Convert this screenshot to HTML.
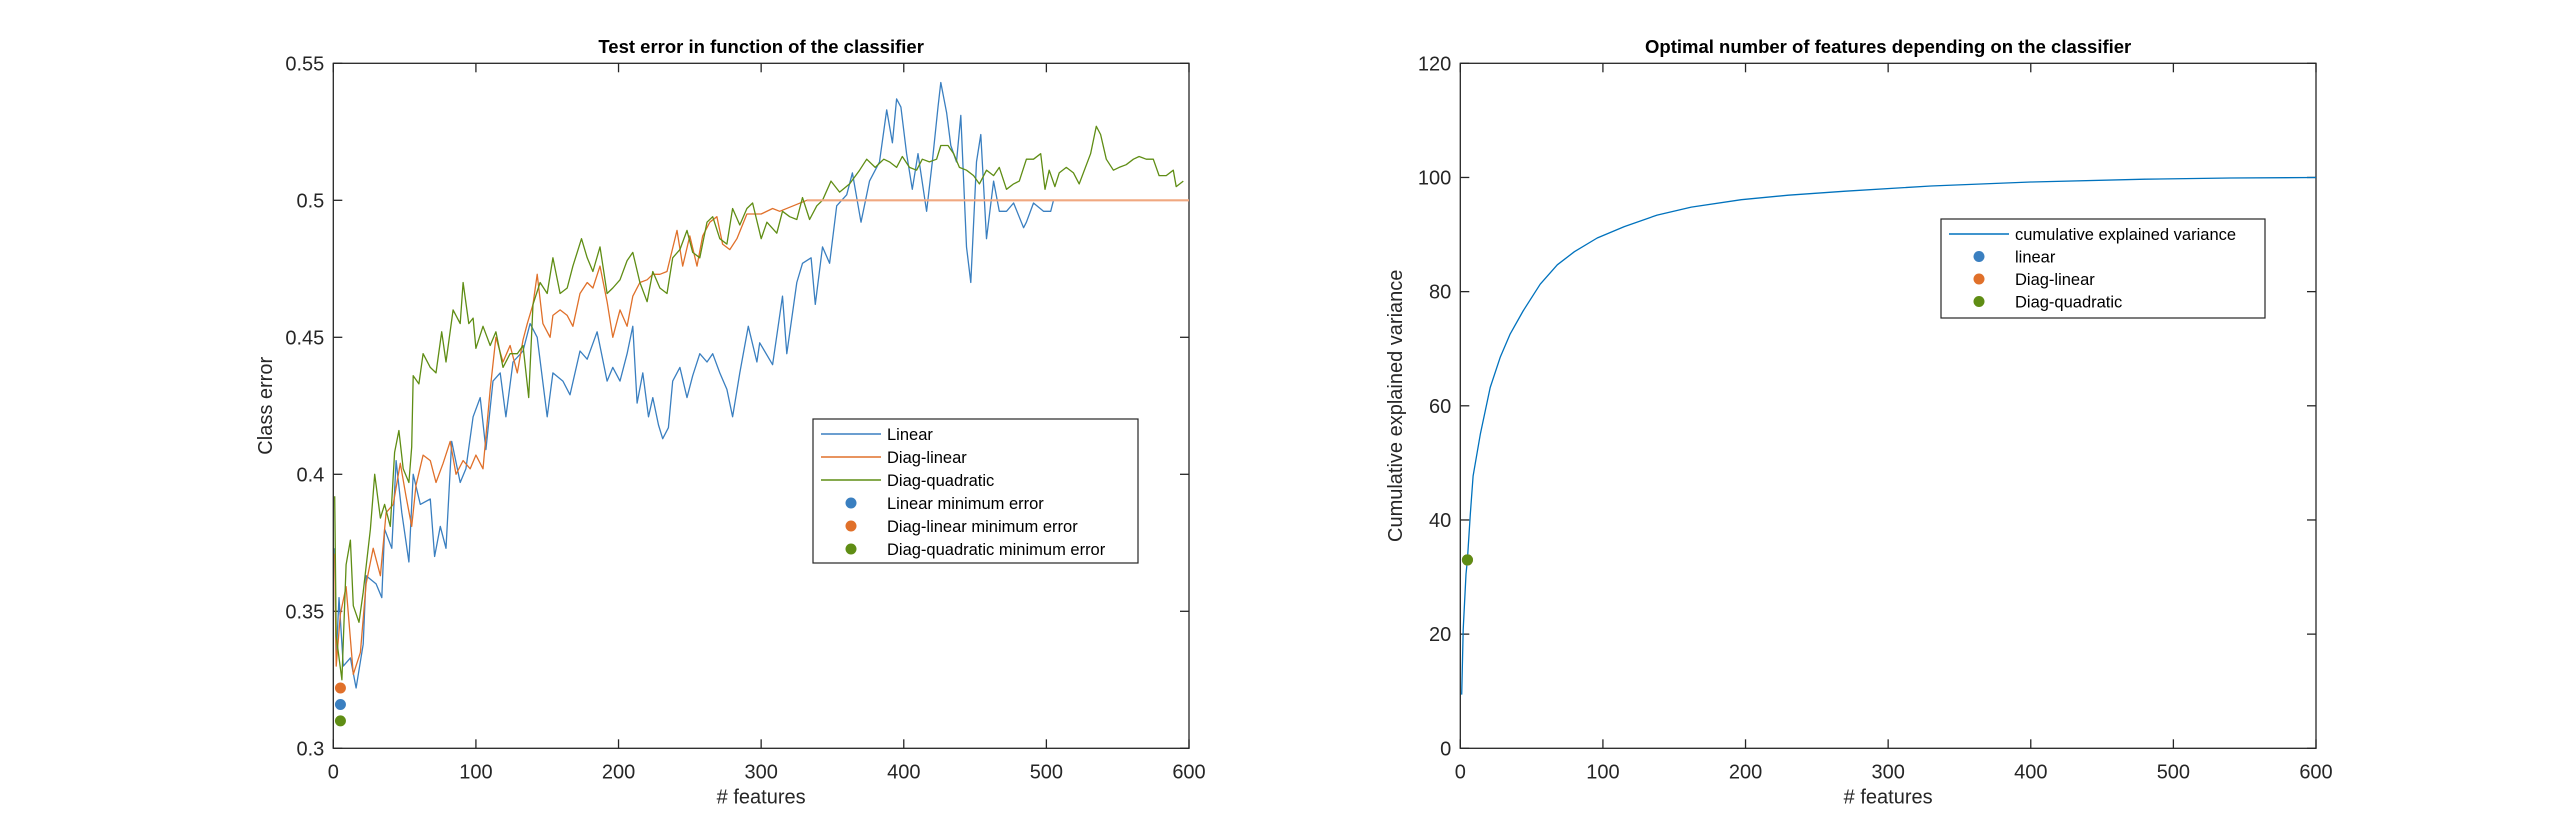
<!DOCTYPE html>
<html><head><meta charset="utf-8"><style>
html,body{margin:0;padding:0;background:#fff;}
svg{display:block;font-family:"Liberation Sans",Arial,sans-serif;}
</style></head><body>
<svg id="fig" width="2560" height="840" viewBox="0 0 2560 840" xmlns="http://www.w3.org/2000/svg">
<rect width="2560" height="840" fill="#fff"/>
</svg>
<script>
// ---------- Left chart data ----------
const linX = [1,2,4,7,12,16,21,23,30,34,36,41,44,48,53,56,61,68,71,75,79,83,89,93,98,103,107,112,117,121,126,133,138,143,150,154,161,166,173,178,185,192,196,201,206,210,213,217,221,224,228,231,235,238,243,248,252,257,262,266,271,276,280,285,291,297,299,308,315,318,325,329,335,338,343,348,353,360,364,370,376,383,388,392,395,398,402,406,410,416,420,424,426,430,433,437,440,444,447,451,454,458,463,467,472,477,484,486,491,498,503,505,600];
const linY = [0.373,0.333,0.355,0.330,0.333,0.322,0.338,0.363,0.360,0.355,0.380,0.373,0.405,0.386,0.368,0.400,0.389,0.391,0.370,0.381,0.373,0.412,0.397,0.402,0.421,0.428,0.409,0.434,0.437,0.421,0.441,0.445,0.455,0.450,0.421,0.437,0.434,0.429,0.445,0.442,0.452,0.434,0.439,0.434,0.444,0.454,0.426,0.437,0.421,0.428,0.418,0.413,0.417,0.434,0.439,0.428,0.436,0.444,0.441,0.444,0.437,0.431,0.421,0.437,0.454,0.441,0.448,0.440,0.465,0.444,0.470,0.477,0.479,0.462,0.483,0.477,0.498,0.502,0.510,0.492,0.507,0.514,0.533,0.521,0.537,0.534,0.517,0.504,0.517,0.496,0.514,0.534,0.543,0.532,0.520,0.514,0.531,0.483,0.470,0.514,0.524,0.486,0.507,0.496,0.496,0.499,0.490,0.492,0.499,0.496,0.496,0.500,0.500];
const dlinX = [1,2,5,9,14,19,23,28,33,37,42,47,51,55,58,63,68,72,77,82,86,91,96,100,105,110,114,119,124,129,133,136,140,143,147,152,154,159,164,168,173,178,182,187,192,196,201,206,210,215,220,224,229,234,241,245,250,255,259,264,269,273,278,283,290,294,300,308,313,332,600];
const dlinY = [0.371,0.330,0.349,0.359,0.327,0.335,0.360,0.373,0.363,0.386,0.389,0.404,0.392,0.381,0.396,0.407,0.405,0.397,0.404,0.412,0.400,0.405,0.402,0.407,0.402,0.431,0.450,0.441,0.447,0.437,0.449,0.455,0.462,0.473,0.455,0.450,0.458,0.460,0.458,0.454,0.466,0.470,0.468,0.476,0.463,0.450,0.460,0.454,0.465,0.470,0.471,0.473,0.473,0.474,0.489,0.476,0.487,0.476,0.487,0.492,0.494,0.484,0.482,0.486,0.495,0.495,0.495,0.497,0.496,0.500,0.500];
const dquadX = [1,2,6,9,12,14,18,21,26,29,33,36,40,43,46,49,53,55,56,60,63,68,72,76,79,84,89,91,95,98,100,105,110,114,119,124,129,133,137,140,145,150,154,159,164,168,174,178,182,187,192,196,201,206,210,215,220,224,229,234,238,243,248,252,257,262,266,271,276,280,285,290,294,300,304,311,315,320,325,329,334,339,343,349,355,362,369,374,380,386,390,395,399,404,409,413,418,423,426,431,435,439,444,449,453,458,463,467,472,477,481,486,491,496,499,502,506,509,514,519,523,531,535,538,542,547,551,556,561,565,570,575,579,584,589,591,596];
const dquadY = [0.392,0.341,0.325,0.367,0.376,0.352,0.346,0.357,0.380,0.400,0.384,0.389,0.381,0.408,0.416,0.402,0.397,0.410,0.436,0.433,0.444,0.439,0.437,0.452,0.441,0.460,0.455,0.470,0.455,0.457,0.446,0.454,0.447,0.452,0.439,0.444,0.444,0.447,0.428,0.462,0.470,0.466,0.479,0.466,0.468,0.476,0.486,0.479,0.474,0.483,0.466,0.468,0.471,0.478,0.481,0.470,0.463,0.474,0.468,0.466,0.479,0.482,0.489,0.481,0.479,0.492,0.494,0.486,0.484,0.497,0.491,0.497,0.499,0.486,0.492,0.488,0.496,0.494,0.493,0.501,0.493,0.498,0.500,0.507,0.503,0.506,0.511,0.515,0.512,0.515,0.514,0.512,0.516,0.512,0.511,0.515,0.514,0.515,0.520,0.520,0.517,0.512,0.511,0.509,0.506,0.511,0.509,0.512,0.504,0.506,0.507,0.515,0.515,0.517,0.504,0.511,0.505,0.510,0.512,0.510,0.506,0.517,0.527,0.524,0.515,0.511,0.512,0.513,0.515,0.516,0.515,0.515,0.509,0.509,0.511,0.505,0.507];
const minX = [5,5,5];
const minY = [0.316,0.322,0.310];
const leftYTicks = [0.3,0.35,0.4,0.45,0.5,0.55];
const leftYTickLabels = ["0.3","0.35","0.4","0.45","0.5","0.55"];
const xTicks = [0,100,200,300,400,500,600];
const xTickLabels = ["0","100","200","300","400","500","600"];
// ---------- Right chart data ----------
const cumX = [1,2,4,5,7,9,14,21,28,35,44,56,68,80,96,115,138,162,197,230,270,330,400,480,540,600];
const cumY = [9.4,20.8,30.5,33,41,47.7,55,63.2,68.5,72.6,76.6,81.3,84.7,87,89.4,91.4,93.4,94.8,96.1,96.9,97.6,98.5,99.2,99.7,99.9,100];
const optX = [5,5,5];
const optY = [33,33,33];
const rightYTicks = [0,20,40,60,80,100,120];
const rightYTickLabels = ["0","20","40","60","80","100","120"];

const C = {blue:"#0072BD", b2:"#3a7fc0", orange:"#D95319", o2:"#e0702a", green:"#77AC30", g2:"#5f8d14"};
const NS = "http://www.w3.org/2000/svg";
const svg = document.getElementById('fig');
function el(tag, attrs, parent){const e=document.createElementNS(NS,tag);for(const k in attrs)e.setAttribute(k,attrs[k]);(parent||svg).appendChild(e);return e;}
function txt(s, attrs, parent){const e=el('text',attrs,parent);e.textContent=s;return e;}

function axes(L, name, xmin,xmax,ymin,ymax){
  const g = el('g',{});
  
  
  L.g=g;
  L.sx = v => L.x0 + (v-xmin)/(xmax-xmin)*(L.x1-L.x0);
  L.sy = v => L.y1 - (v-ymin)/(ymax-ymin)*(L.y1-L.y0);
  return L;
}
function frame(L, yT, yTL, title, ylab, ytitleName){
  const g=L.g;
  const r=el('rect',{x:L.x0,y:L.y0,width:L.x1-L.x0,height:L.y1-L.y0,fill:'none',stroke:'#262626','stroke-width':1.3},g);
   
  xTicks.forEach((v,i)=>{
    const x=L.sx(v);
    el('line',{x1:x,x2:x,y1:L.y1,y2:L.y1-9,stroke:'#262626','stroke-width':1.3},g);
    el('line',{x1:x,x2:x,y1:L.y0,y2:L.y0+9,stroke:'#262626','stroke-width':1.3},g);
    const t=txt(xTickLabels[i],{x:x,y:L.y1+30,'font-size':20,fill:'#262626','text-anchor':'middle'},g);
     
  });
  yT.forEach((v,i)=>{
    const y=L.sy(v);
    el('line',{x1:L.x0,x2:L.x0+9,y1:y,y2:y,stroke:'#262626','stroke-width':1.3},g);
    el('line',{x1:L.x1,x2:L.x1-9,y1:y,y2:y,stroke:'#262626','stroke-width':1.3},g);
    const t=txt(yTL[i],{x:L.x0-9,y:y+7,'font-size':20,fill:'#262626','text-anchor':'end'},g);
     
  });
  const cx=(L.x0+L.x1)/2, cy=(L.y0+L.y1)/2;
  const tt=txt(title,{x:cx,y:53,'font-size':18.5,'font-weight':'bold',fill:'#000','text-anchor':'middle'},g);
   
  const xl=txt('# features',{x:cx,y:L.y1+55,'font-size':20,fill:'#262626','text-anchor':'middle'},g);
   
  const yl=txt(ylab,{x:0,y:0,'font-size':20,fill:'#262626','text-anchor':'middle',transform:`translate(${L.ylx},${cy}) rotate(-90)`},g);
   
}
function line(L, xs, ys, color, name, w){
  const d=xs.map((x,i)=>(i?'L':'M')+L.sx(x).toFixed(1)+','+L.sy(ys[i]).toFixed(1)).join('');
  const p=el('path',{d:d,fill:'none',stroke:color,'stroke-width':w||1.3,'stroke-linejoin':'round'},L.g);
   
}
function dot(L,x,y,color,name){
  const c=el('ellipse',{cx:L.sx(x),cy:L.sy(y),rx:5.5,ry:5.5,fill:color},L.g);
   
}
function legend(x,y,w,h,items,name){
  const g=el('g',{});
   
  el('rect',{x:x,y:y,width:w,height:h,fill:'#fff',stroke:'#262626','stroke-width':1.2},g);
  items.forEach((it,i)=>{
    const yy=y+items.rowStart+i*items.rowH;
    if(it.type==='line') el('line',{x1:x+8,x2:x+68,y1:yy,y2:yy,stroke:it.color,'stroke-width':1.4},g);
    else el('circle',{cx:x+38,cy:yy,r:5.5,fill:it.color},g);
    const t=txt(it.label,{x:x+74,y:yy+6,'font-size':16.5,fill:'#000'},g);
     
  });
}

// Left chart
const A = axes({x0:333.3,x1:1189,y0:63.3,y1:748.3,ylx:272},'class-error-chart',0,600,0.3,0.55);
frame(A,leftYTicks,leftYTickLabels,'Test error in function of the classifier','Class error','y-axis-title');
line(A,linX,linY,C.b2,'linear-error-line');
line(A,dlinX,dlinY,C.o2,'diag-linear-error-line');
line(A,dquadX,dquadY,C.g2,'diag-quadratic-error-line');
line(A,[332,600],[0.5,0.5],'#f0a880','diag-linear-plateau',2.2);
dot(A,minX[1],minY[1],C.o2,'diag-linear-minimum-point');
dot(A,minX[0],minY[0],C.b2,'linear-minimum-point');
dot(A,minX[2],minY[2],C.g2,'diag-quadratic-minimum-point');
const li=[{type:'line',color:C.b2,label:'Linear'},{type:'line',color:C.o2,label:'Diag-linear'},{type:'line',color:C.g2,label:'Diag-quadratic'},{type:'dot',color:C.b2,label:'Linear minimum error'},{type:'dot',color:C.o2,label:'Diag-linear minimum error'},{type:'dot',color:C.g2,label:'Diag-quadratic minimum error'}];
li.rowStart=15; li.rowH=23;
legend(813,419,325,144,li,'left-legend');

// Right chart
const B = axes({x0:1460.3,x1:2316,y0:63.3,y1:748.3,ylx:1402},'explained-variance-chart',0,600,0,120);
frame(B,rightYTicks,rightYTickLabels,'Optimal number of features depending on the classifier','Cumulative explained variance','y-axis-title');
line(B,cumX,cumY,C.blue,'cumulative-variance-line');
dot(B,optX[0],optY[0],C.b2,'linear-optimal-point');
dot(B,optX[1],optY[1],C.o2,'diag-linear-optimal-point');
dot(B,optX[2],optY[2],C.g2,'diag-quadratic-optimal-point');
const ri=[{type:'line',color:C.blue,label:'cumulative explained variance'},{type:'dot',color:C.b2,label:'linear'},{type:'dot',color:C.o2,label:'Diag-linear'},{type:'dot',color:C.g2,label:'Diag-quadratic'}];
ri.rowStart=15; ri.rowH=22.5;
legend(1941,219,324,99,ri,'right-legend');
</script>
</body></html>
